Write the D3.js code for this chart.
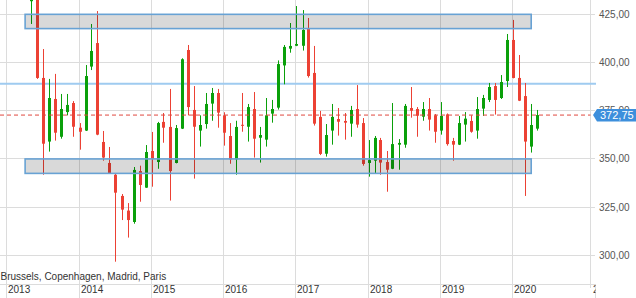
<!DOCTYPE html>
<html><head><meta charset="utf-8">
<script src="https://cdn.jsdelivr.net/npm/d3@7/dist/d3.min.js"></script>
<style>
html,body{margin:0;padding:0;background:#fff;}
svg{display:block;font-family:"Liberation Sans",Arial,sans-serif;}
</style></head>
<body><svg id="chart" width="636" height="298"></svg>
<script>
// ---- data ----
const months = ["2013-05","2013-06","2013-07","2013-08","2013-09","2013-10","2013-11","2013-12",
"2014-01","2014-02","2014-03","2014-04","2014-05","2014-06","2014-07","2014-08","2014-09","2014-10","2014-11","2014-12",
"2015-01","2015-02","2015-03","2015-04","2015-05","2015-06","2015-07","2015-08","2015-09","2015-10","2015-11","2015-12",
"2016-01","2016-02","2016-03","2016-04","2016-05","2016-06","2016-07","2016-08","2016-09","2016-10","2016-11","2016-12",
"2017-01","2017-02","2017-03","2017-04","2017-05","2017-06","2017-07","2017-08","2017-09","2017-10","2017-11","2017-12",
"2018-01","2018-02","2018-03","2018-04","2018-05","2018-06","2018-07","2018-08","2018-09","2018-10","2018-11","2018-12",
"2019-01","2019-02","2019-03","2019-04","2019-05","2019-06","2019-07","2019-08","2019-09","2019-10","2019-11","2019-12",
"2020-01","2020-02","2020-03","2020-04","2020-05"];
const open  = [431.8,436,392,359,381.1,361.5,374.3,379,
366.2,364.7,397.9,410.1,358.8,347.9,341.8,330.8,323.2,317.3,343.7,335.1,
354.1,348.4,369.2,366.6,347.9,365.7,406.5,375.4,364.7,368.1,378.7,384.2,
372.6,361.9,349.8,367.7,366.7,375.9,361,360,373.5,376.6,398.5,407.2,
408.7,408.7,417.4,394.6,371.8,352.7,364.7,370.7,369.7,368.3,375.9,368.6,
347.9,349.1,359.8,348.4,344.9,357.4,357.4,376.4,375.9,371.9,375.9,372.6,
364.7,373.1,359.3,357.4,367.8,369.7,364.7,376.1,380.6,387.8,381.6,390.4,
411.7,392,382.6,356.4,365.7];
const high  = [440,438,407,391.5,394.1,383.7,383.7,380,
368.6,398.7,420,426.7,364.5,356.2,342.5,331.8,327.1,345.8,346.5,357.2,
364,369.2,373.8,386.3,367.6,402.2,409.1,387.8,372.6,384.2,386.8,386.3,
374.2,368.6,369.8,384.2,378.5,384.7,366.6,381.6,380.6,401.1,409.1,420.5,
429.3,427.2,423.1,408.6,374.9,368.1,378.5,376.4,373.8,377.5,388.3,371.2,
359.8,361.9,360.9,354.1,379,360.3,378.5,387.3,376.9,379.5,381.6,373.3,
379.5,373.6,360.9,372.3,374.3,372.6,382.1,383.2,389.4,389.4,393.5,414.8,
422.1,403.9,389.4,378.5,375.4];
const low   = [420,391.5,341.8,353.8,359.5,360.5,372.6,361.5,
354.8,364.5,396.1,362.3,349.1,342.3,296.7,318.3,309.2,316.4,327.8,335,
335.6,344.9,358.4,328.4,347.7,365.5,372.6,339.8,356.4,365.7,369.8,366.2,
356.9,347.5,341.8,364.1,359,350.7,348.1,356.4,368.8,375.6,388.7,405.1,
408.5,406.2,392.2,367.3,352,351.2,357.4,362.1,360,361.5,366.2,346.5,
340.8,342.7,341.8,333,344.7,344.4,355.8,371.4,361.5,369.8,364.7,358.4,
362.6,356.9,349.1,357.2,359,363.6,360.5,372.3,379.5,373,381.1,387.3,
391.8,380,330.8,353.3,364.7];
const close = [436,392,357.9,381.6,363.6,375.9,378,366.7,
364.1,393,406,362.6,350.7,342.5,332.5,323.7,318.3,344.3,336.5,353.6,
350,368.6,366.2,343.7,366,401.7,376.9,366.7,367.6,378.5,384.2,374,
363.6,349.8,366.6,367.4,376.9,360.5,362.4,372.6,375.9,399.2,408.1,408.6,
409.6,416.9,393,368.3,352.6,362.4,371.8,369.3,368.8,375.4,367.8,347.4,
349.4,360.9,348.1,344.4,357.7,358.3,377.5,375,372.4,375.9,370.4,364.1,
372.3,357.7,357.4,368.6,370.9,364.1,375.9,381.6,387.3,380.6,389.9,411.7,
392,380.2,359,367.6,372.75];
const yTicks = [300,325,350,375,400,425];
const yearTicks = ["2013","2014","2015","2016","2017","2018","2019","2020"];
const zoneUpper = [417.6, 425];
const zoneLower = [342.5, 350];
const zoneSpan = ["2013-04","2020-04"];
const levelLine = 389;
const lastPrice = 372.75;
const titleText = "Brussels, Copenhagen, Madrid, Paris";

// ---- scales ----
const W = 636, H = 298, plotRight = 590.5;
const parseM = d3.timeParse("%Y-%m");
const parseY = d3.timeParse("%Y");
const x = d3.scaleTime().domain([new Date(2013,0,1), new Date(2020,0,1)]).range([6.8, 512.7]);
const y = d3.scaleLinear().domain([300,425]).range([255.33,14.33]);
const px = v => Math.floor(v) + 0.5;
const fmt = v => d3.format(".2f")(v).replace(".", ",");

const svg = d3.select("#chart");
svg.append("rect").attr("width",W).attr("height",H).attr("fill","#fff");

const grid = svg.append("g").attr("stroke","#dcdcdc").attr("stroke-width",1);
// horizontal grid
grid.selectAll("line.h").data(yTicks).join("line")
  .attr("x1",0).attr("x2",595).attr("y1",d=>px(y(d))).attr("y2",d=>px(y(d)));
// vertical year grid
grid.selectAll("line.v").data(yearTicks).join("line")
  .attr("x1",d=>px(x(parseY(d)))).attr("x2",d=>px(x(parseY(d))))
  .attr("y1",0).attr("y2",H);
// bottom axis line and right border
grid.append("line").attr("x1",0).attr("x2",596).attr("y1",284.5).attr("y2",284.5);
grid.append("line").attr("x1",plotRight).attr("x2",plotRight).attr("y1",0).attr("y2",288);
grid.append("line").attr("x1",595.5).attr("x2",595.5).attr("y1",284).attr("y2",H);

// horizontal level line
svg.append("line").attr("x1",0).attr("x2",596)
  .attr("y1",y(levelLine)).attr("y2",y(levelLine))
  .attr("stroke","#9fcbf0").attr("stroke-width",2);

// candles
const data = months.map((m,i)=>({d:parseM(m),o:open[i],h:high[i],l:low[i],c:close[i]}));
const green = "#0aa00a", red = "#ec4134";
const cg = svg.append("g");
const cx = d => Math.floor(x(d.d)+1) + 0.5;
cg.selectAll("line").data(data).join("line")
  .attr("x1",cx).attr("x2",cx)
  .attr("y1",d=>y(d.h)).attr("y2",d=>y(d.l))
  .attr("stroke",d=>d.c>=d.o?green:red).attr("stroke-width",1);
cg.selectAll("rect").data(data).join("rect")
  .attr("x",d=>cx(d)-1.5).attr("width",3)
  .attr("y",d=>y(Math.max(d.o,d.c)))
  .attr("height",d=>Math.max(1,Math.abs(y(d.o)-y(d.c))))
  .attr("fill",d=>d.c>=d.o?green:red);

// zones (semi-transparent, on top)
const zones = [zoneUpper, zoneLower];
svg.selectAll("rect.zone").data(zones).join("rect").attr("class","zone")
  .attr("x",x(parseM(zoneSpan[0]))+0.5)
  .attr("width",x(parseM(zoneSpan[1]))-x(parseM(zoneSpan[0])))
  .attr("y",d=>y(d[1])).attr("height",d=>y(d[0])-y(d[1]))
  .attr("fill","rgba(0,0,0,0.15)").attr("stroke","#68a2d4").attr("stroke-width",1.6);

// last price dashed line
svg.append("line").attr("x1",0).attr("x2",plotRight)
  .attr("y1",y(lastPrice)).attr("y2",y(lastPrice))
  .attr("stroke","#e0473f").attr("stroke-width",1).attr("stroke-dasharray","4,3");

// y labels
svg.selectAll("text.yl").data(yTicks).join("text")
  .attr("x",599).attr("y",d=>y(d)).attr("dy","0.35em")
  .attr("font-size","10px").attr("fill","#555").text(d=>fmt(d));

// price tag
const py = y(lastPrice);
svg.append("path")
  .attr("d",`M593,${py} L597,${py-6} L636,${py-6} L636,${py+6.5} L597,${py+6.5} Z`)
  .attr("fill","#3d8fdc");
svg.append("text").attr("x",600).attr("y",py).attr("dy","0.36em")
  .attr("font-size","11px").attr("fill","#fff").text(fmt(lastPrice));

// x labels
svg.append("clipPath").attr("id","xclip").append("rect").attr("x",0).attr("y",280).attr("width",595.5).attr("height",20);
const xl = svg.append("g").attr("clip-path","url(#xclip)");
xl.selectAll("text").data(yearTicks.concat(["2021"])).join("text")
  .attr("x",d=> d==="2021" ? 593 : px(x(parseY(d)))+1.5).attr("y",293)
  .attr("font-size","10px").attr("fill","#333").text(d=>d);

// title text
svg.append("text").attr("x",0.5).attr("y",280).attr("font-size","10px").attr("fill","#333").text(titleText);
</script></body></html>
